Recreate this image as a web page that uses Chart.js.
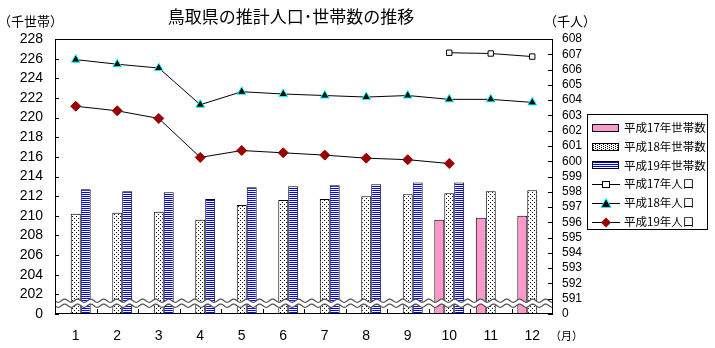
<!DOCTYPE html>
<html>
<head>
<meta charset="utf-8">
<script src="https://cdn.jsdelivr.net/npm/chart.js@4.4.1/dist/chart.umd.min.js"></script>
<style>
html, body { margin: 0; padding: 0; background: #fff; }
</style>
</head>
<body>
<canvas id="chart" width="715" height="348"></canvas>
<script>
var months = ['1', '2', '3', '4', '5', '6', '7', '8', '9', '10', '11', '12'];

// 世帯数 (千世帯)
var hh17 = [null, null, null, null, null, null, null, null, null, 209.6, 209.8, 210.0];
var hh18 = [210.2, 210.3, 210.4, 209.6, 211.1, 211.6, 211.7, 212.0, 212.2, 212.3, 212.5, 212.6];
var hh19 = [212.7, 212.5, 212.4, 211.7, 212.9, 213.0, 213.1, 213.2, 213.4, 213.4, null, null];

// 人口 (千人)
var pop17 = [null, null, null, null, null, null, null, null, null, 607.1, 607.05, 606.85];
var pop18 = [606.65, 606.35, 606.1, 603.7, 604.55, 604.4, 604.3, 604.2, 604.3, 604.05, 604.05, 603.85];
var pop19 = [603.6, 603.3, 602.8, 600.25, 600.7, 600.55, 600.4, 600.2, 600.1, 599.85, null, null];

var labels = ['平成17年世帯数', '平成18年世帯数', '平成19年世帯数', '平成17年人口', '平成18年人口', '平成19年人口'];

var jp = '"Noto Sans CJK JP", sans-serif';
var num = '"Liberation Sans", Arial, sans-serif';

function makeCanvas(w, h) {
    var c = document.createElement('canvas');
    c.width = w;
    c.height = h;
    return c;
}

// ドット模様
function dotPattern() {
    var c = makeCanvas(4, 4);
    var g = c.getContext('2d');
    g.fillStyle = '#fff';
    g.fillRect(0, 0, 4, 4);
    g.fillStyle = '#000';
    g.fillRect(0, 0, 1, 1);
    g.fillRect(2, 2, 1, 1);
    return g.createPattern(c, 'repeat');
}

// 横じま
function stripePattern() {
    var c = makeCanvas(2, 2);
    var g = c.getContext('2d');
    g.fillStyle = '#fff';
    g.fillRect(0, 0, 2, 2);
    g.fillStyle = '#0000ff';
    g.fillRect(0, 0, 2, 1);
    return g.createPattern(c, 'repeat');
}

var pink = '#ff99cc';
var dots = dotPattern();
var stripes = stripePattern();

function barIcon(kind) {
    var c = makeCanvas(27, 12);
    var g = c.getContext('2d');
    g.fillStyle = '#fff';
    g.fillRect(0, 2, 27, 8);
    var r, k;
    if (kind == 'pink') {
        g.fillStyle = pink;
        g.fillRect(0, 2, 27, 8);
    } else if (kind == 'dots') {
        g.fillStyle = '#000';
        for (r = 3; r < 9; r++) {
            for (k = (r % 2) * 2 + 1; k < 26; k += 4) g.fillRect(k, r, 1, 1);
        }
    } else {
        g.fillStyle = '#0000ff';
        for (r = 3; r < 9; r += 2) g.fillRect(1, r, 25, 1);
    }
    g.strokeStyle = '#000';
    g.lineWidth = 1;
    g.strokeRect(0.5, 2.5, 26, 7);
    return c;
}

function lineIcon(kind) {
    var c = makeCanvas(28, 12);
    var g = c.getContext('2d');
    g.strokeStyle = '#000';
    g.lineWidth = 1;
    g.beginPath();
    g.moveTo(0, 6.5);
    g.lineTo(28, 6.5);
    g.stroke();
    if (kind == 'rect') {
        g.fillStyle = '#fff';
        g.fillRect(10.5, 3.5, 7, 6);
        g.strokeRect(10.5, 3.5, 7, 6);
    } else if (kind == 'tri') {
        g.beginPath();
        g.moveTo(14, 1.5);
        g.lineTo(19, 10.5);
        g.lineTo(9, 10.5);
        g.closePath();
        g.fillStyle = '#000';
        g.fill();
        g.strokeStyle = '#00ffff';
        g.stroke();
    } else {
        g.beginPath();
        g.moveTo(14, 1.5);
        g.lineTo(19, 6.5);
        g.lineTo(14, 11.5);
        g.lineTo(9, 6.5);
        g.closePath();
        g.fillStyle = '#990000';
        g.fill();
    }
    return c;
}

var icons = [barIcon('pink'), barIcon('dots'), barIcon('stripes'), lineIcon('rect'), lineIcon('tri'), lineIcon('dia')];

var framePlugin = {
    id: 'frame',
    afterDatasetsDraw: function(chart) {
        var ctx = chart.ctx;
        var a = chart.chartArea;
        var x = chart.scales.x, y = chart.scales.y, y2 = chart.scales.y2;

        // 波線 (省略記号)
        var cy = y.getPixelForValue(201.1);
        var p = 13, amp = 1.6, i, px;
        ctx.save();
        ctx.beginPath();
        for (px = a.left; px <= a.right; px++) {
            var yy = cy - 2.5 + amp * Math.sin((px - a.left) * 2 * Math.PI / p);
            if (px == a.left) ctx.moveTo(px, yy); else ctx.lineTo(px, yy);
        }
        for (px = a.right; px >= a.left; px--) {
            ctx.lineTo(px, cy + 2.5 + amp * Math.sin((px - a.left) * 2 * Math.PI / p));
        }
        ctx.closePath();
        ctx.fillStyle = '#fff';
        ctx.fill();
        ctx.strokeStyle = '#555';
        ctx.lineWidth = 1.3;
        [-2.5, 2.5].forEach(function(off) {
            ctx.beginPath();
            for (px = a.left; px <= a.right; px++) {
                var w = cy + off + amp * Math.sin((px - a.left) * 2 * Math.PI / p);
                if (px == a.left) ctx.moveTo(px, w); else ctx.lineTo(px, w);
            }
            ctx.stroke();
        });

        // 枠
        ctx.strokeStyle = '#000';
        ctx.lineWidth = 1;
        ctx.strokeRect(Math.round(a.left) + 0.5, Math.round(a.top) + 0.5,
            Math.round(a.right - a.left) - 1, Math.round(a.bottom - a.top) - 1);

        // 内向きの目盛
        ctx.beginPath();
        y.ticks.forEach(function(t) {
            var ty = Math.round(y.getPixelForValue(t.value)) + 0.5;
            ctx.moveTo(a.left, ty);
            ctx.lineTo(a.left + 4, ty);
        });
        y2.ticks.forEach(function(t) {
            var ty = Math.round(y2.getPixelForValue(t.value)) + 0.5;
            ctx.moveTo(a.right, ty);
            ctx.lineTo(a.right - 5, ty);
        });
        for (i = 1; i < months.length; i++) {
            var tx = Math.round((x.getPixelForValue(i - 1) + x.getPixelForValue(i)) / 2) + 0.5;
            ctx.moveTo(tx, a.bottom);
            ctx.lineTo(tx, a.bottom - 5);
        }
        ctx.stroke();
        ctx.restore();
    },
    afterDraw: function(chart) {
        var ctx = chart.ctx;
        ctx.save();
        ctx.fillStyle = '#000';
        ctx.textBaseline = 'middle';
        ctx.textAlign = 'center';
        ctx.font = '17px ' + jp;
        ctx.fillText('鳥取県の推計人口･世帯数の推移', 291, 17);
        ctx.textAlign = 'left';
        ctx.font = '13px ' + jp;
        ctx.fillText('（千世帯）', -2, 21);
        ctx.fillText('（千人）', 544, 21);
        ctx.font = '11px ' + jp;
        ctx.fillText('（月）', 550, 336);

        // 凡例
        ctx.strokeStyle = '#000';
        ctx.lineWidth = 1;
        ctx.strokeRect(587.5, 114.5, 120, 115);
        ctx.font = '11.5px ' + jp;
        chart.data.datasets.forEach(function(ds, i) {
            var cy = 128 + i * 18.7;
            ctx.drawImage(icons[i], 592, Math.round(cy - 6));
            ctx.fillText(ds.label, 624, cy);
        });
        ctx.restore();
    }
};

var chart = new Chart(document.getElementById('chart'), {
    type: 'bar',
    data: {
        labels: months,
        datasets: [
            { label: labels[0], data: hh17, yAxisID: 'y', backgroundColor: pink, borderColor: '#000', borderWidth: 1, borderSkipped: false },
            { label: labels[1], data: hh18, yAxisID: 'y', backgroundColor: dots, borderColor: '#000', borderWidth: 1, borderSkipped: false },
            { label: labels[2], data: hh19, yAxisID: 'y', backgroundColor: stripes, borderColor: '#000', borderWidth: 1, borderSkipped: false },
            { type: 'line', label: labels[3], data: pop17, yAxisID: 'y2', borderColor: '#000', borderWidth: 1,
              pointStyle: 'rect', pointRadius: 3.8, pointBackgroundColor: '#fff', pointBorderColor: '#000', pointBorderWidth: 1 },
            { type: 'line', label: labels[4], data: pop18, yAxisID: 'y2', borderColor: '#000', borderWidth: 1,
              pointStyle: 'triangle', pointRadius: 5, pointBackgroundColor: '#000', pointBorderColor: '#00ffff', pointBorderWidth: 1 },
            { type: 'line', label: labels[5], data: pop19, yAxisID: 'y2', borderColor: '#000', borderWidth: 1,
              pointStyle: 'rectRot', pointRadius: 5, pointBackgroundColor: '#990000', pointBorderColor: '#990000', pointBorderWidth: 1 }
        ]
    },
    options: {
        responsive: false,
        animation: false,
        devicePixelRatio: 1,
        layout: { padding: { top: 39, right: 128, left: 0, bottom: 0 } },
        datasets: {
            bar: { barPercentage: 1, categoryPercentage: 0.72 }
        },
        plugins: {
            tooltip: { enabled: false },
            legend: { display: false }
        },
        scales: {
            x: {
                grid: { display: false, drawTicks: false },
                border: { display: false },
                ticks: { color: '#000', font: { family: num, size: 14 }, padding: 14, maxRotation: 0 },
                afterFit: function(s) { s.height = 34; }
            },
            y: {
                position: 'left',
                min: 200,
                max: 228,
                grid: { display: false, drawTicks: false },
                border: { display: false },
                ticks: {
                    stepSize: 2,
                    autoSkip: false,
                    color: '#000',
                    font: { family: num, size: 14 },
                    padding: 12,
                    callback: function(v) { return v == 200 ? '0' : v; }
                },
                afterFit: function(s) { s.width = 55; }
            },
            y2: {
                position: 'right',
                min: 590,
                max: 608,
                grid: { display: false, drawTicks: false },
                border: { display: false },
                ticks: {
                    stepSize: 1,
                    autoSkip: false,
                    color: '#000',
                    font: { family: num, size: 12 },
                    padding: 9,
                    callback: function(v) { return v == 590 ? '0' : v; }
                },
                afterFit: function(s) { s.width = 34; }
            }
        }
    },
    plugins: [framePlugin]
});
</script>
</body>
</html>
